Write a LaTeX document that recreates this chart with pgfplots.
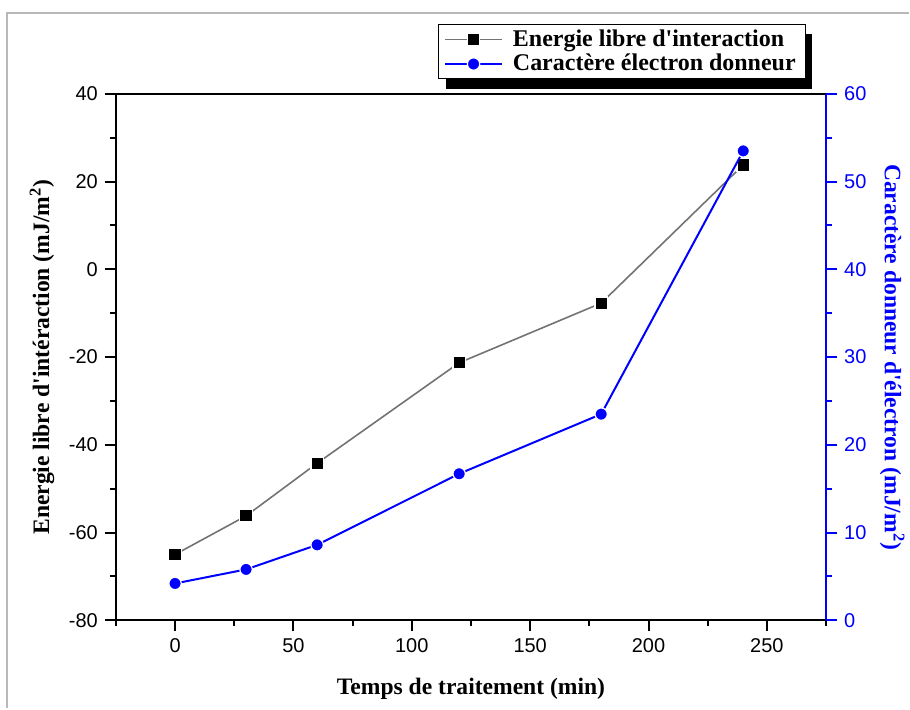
\documentclass[border=0pt]{standalone}
\usepackage{fontspec}
\setmainfont{Liberation Serif}
\setsansfont{Liberation Sans}
\usepackage{pgfplots}
\pgfplotsset{compat=1.18}
\usetikzlibrary{backgrounds}

\definecolor{ogray}{gray}{0.45}
\definecolor{framegray}{gray}{0.72}

\begin{document}
\begin{tikzpicture}
\pgfplotsset{
  every axis/.append style={
    scale only axis, width=355.5pt, height=263.5pt,
    xmin=-25, xmax=275,
    tick align=outside,
    major tick length=5.5pt, minor tick length=3pt,
    axis line style={line width=1pt},
    tick style={line width=1pt, black},
    tick label style={font=\fontsize{10}{12}\selectfont\sffamily},
    /pgf/number format/assume math mode=true,
    label style={font=\fontsize{11.8}{14}\selectfont\bfseries},
  }
}
% axe de gauche : energie libre
\begin{axis}[
  ymin=-80, ymax=40,
  xtick={0,50,...,250}, minor xtick={-25,25,...,275},
  ytick={-80,-60,...,40}, minor ytick={-70,-50,...,30},
  xtick pos=bottom, ytick pos=left,
  xlabel={Temps de traitement (min)},
  xlabel style={at={(0.5,-0.131)}, anchor=center},
  ylabel={Energie libre d\textquotesingle intéraction (mJ/m\textsuperscript{2})},
  ylabel style={at={(-0.104,0.5)}, anchor=center},
]
\addplot[ogray, line width=0.8pt, mark=square*, mark size=3.1pt,
  mark options={fill=black, draw=white, line width=0.6pt}] coordinates {
(0,-65.0) (30,-56.2) (60,-44.2) (120,-21.3) (180,-7.7) (240,23.8)
};
\end{axis}
% axe de droite : caractere donneur
\begin{axis}[
  axis x line=none, axis y line*=right,
  ymin=0, ymax=60,
  ytick={0,10,...,60}, minor ytick={5,15,...,55},
  axis line style={blue},
  tick style={blue},
  yticklabel style={text=blue},
  ylabel={Caractère donneur d\textquotesingle électron (mJ/m\textsuperscript{2})},
  ylabel style={text=blue, rotate=180, at={(1.093,0.5)}, anchor=center},
  legend style={name=leg, at={(0.4529,1.1328)}, anchor=north west,
    draw=black, line width=0.6pt, fill=white,
    font=\fontsize{12}{13}\selectfont\bfseries,
    inner xsep=3pt, inner ysep=0.5pt, row sep=-1.5pt, cells={anchor=west}},
  legend image code/.code={
    \draw[#1, mark=none] (0cm,0cm) -- (1.0cm,0cm);
    \draw[#1, only marks] plot coordinates {(0.5cm,0cm)};},
]
\addlegendimage{ogray, line width=0.8pt, mark=square*, mark size=3.1pt,
  mark options={fill=black, draw=white, line width=0.6pt}}
\addlegendentry{\hspace{3pt}Energie libre d\textquotesingle interaction}
\addplot[blue, line width=1pt, mark=*, mark size=3.1pt,
  mark options={fill=blue, draw=white, line width=0.6pt}] coordinates {
(0,4.2) (30,5.8) (60,8.6) (120,16.7) (180,23.5) (240,53.5)
};
\addlegendentry{\hspace{3pt}Caractère électron donneur}
\end{axis}
% ombre de la legende
\begin{pgfonlayer}{background}
\fill[black] ([xshift=4pt,yshift=-5pt]leg.south west) rectangle ([xshift=3pt,yshift=-5pt]leg.north east);
\end{pgfonlayer}
\pgfresetboundingbox
\path (-58pt,-44pt) rectangle (397pt,310.5pt);
\draw[framegray, line width=1pt] (-54.5pt,-44pt) -- (-54.5pt,304pt) -- (397pt,304pt);
\end{tikzpicture}
\end{document}
